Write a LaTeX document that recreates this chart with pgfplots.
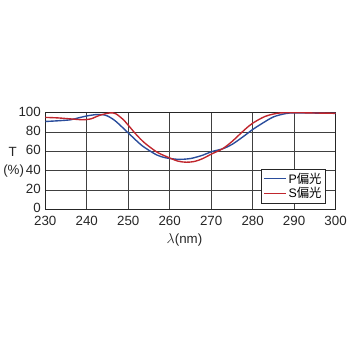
\documentclass[border=0pt]{standalone}
\usepackage{pgfplots}
\pgfplotsset{compat=1.18}
\usepackage{fontspec}
\setmainfont{Liberation Sans}
\newfontfamily\cjk{Noto Sans CJK JP}
\definecolor{pblue}{HTML}{2A4D9C}
\definecolor{sred}{HTML}{C0262D}
\begin{document}
\begin{tikzpicture}[x=1pt,y=1pt]
\path (0,0) rectangle (350,350);
\begin{axis}[
  at={(44pt,138pt)}, anchor=south west,
  scale only axis, width=294pt, height=98pt,
  xmin=230, xmax=300, ymin=0, ymax=100,
  xtick={230,240,...,300}, ytick={0,20,...,100},
  grid=major,
  major grid style={black!75, line width=0.8pt},
  axis line style={black!85, line width=1pt},
  tick style={draw=none},
  /pgf/number format/assume math mode=true,
  ticklabel style={font=\fontsize{13.5}{14}\selectfont, text=black!85},
  yticklabel style={xshift=-1pt, yshift=1pt},
  xticklabel style={yshift=-3.5pt},
  legend style={at={(0.966,0.066)}, anchor=south east, font=\fontsize{12.5}{13}\selectfont, draw=black!85, inner xsep=2pt, inner ysep=1.5pt, row sep=-1pt},
  legend cell align=left,
  legend image code/.code={\draw[#1] (0pt,0pt) -- (22pt,0pt);},
]
\addplot[draw=pblue, line width=1.4pt, smooth] coordinates {
(230,90.8) (233,91.5) (236,92.5) (238,94.5) (240,96.5) (242,97.8) (243.5,98) (245,96.5) (247,91) (250,79) (253,67) (255,61) (257,56) (259,53.3) (262,51.7) (265,52.5) (268,56) (270,59.5) (272.7,62.5) (275,67) (278,76) (280,82.5) (282,88) (285,95.5) (288,99) (290,99.7) (295,99.5) (300,99.2)};
\addlegendentry{P{\cjk 偏光}}
\addplot[draw=sred, line width=1.4pt, smooth] coordinates {
(230,95) (233,94.5) (236,93.5) (239,92.6) (241,93.5) (243,97) (245.5,99.6) (247,98.8) (249,92) (250,87) (252,77) (254,68.5) (257,59) (259.8,53.5) (262,49.8) (264,48.7) (266,49.5) (268,52.5) (270,57) (272.7,62.5) (275,70) (278,82) (280,89) (283,96) (286,99.3) (289,100) (292,99.8) (296,99.5) (300,99.3)};
\addlegendentry{S{\cjk 偏光}}
\end{axis}
\node[font=\fontsize{13.5}{14}\selectfont, text=black!85] at (11,196) {T};
\node[font=\fontsize{13.5}{14}\selectfont, text=black!85] at (12,177) {(\%)};
\node[font=\fontsize{13.5}{14}\selectfont, text=black!85] at (185,107) {$\lambda$(nm)};
\end{tikzpicture}
\end{document}
